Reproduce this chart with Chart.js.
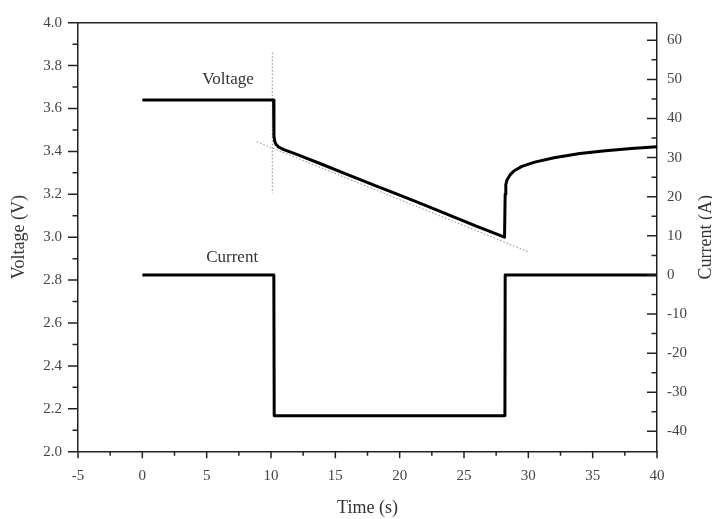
<!DOCTYPE html>
<html>
<head>
<meta charset="utf-8">
<script src="https://cdn.jsdelivr.net/npm/chart.js@4/dist/chart.umd.min.js"></script>
<style>
  html, body { margin: 0; padding: 0; background: #fff; }
  #wrap { width: 712px; height: 519px; }
</style>
</head>
<body>
<div id="wrap"><canvas id="c" width="712" height="519"></canvas></div>
<script>
// Cell voltage during a current pulse
const timeV = [0, 10.2, 10.23, 10.3, 10.4, 10.6, 11, 12, 14, 16, 18, 20, 22, 24, 26, 28.15, 28.2, 28.25, 28.35, 28.6, 28.9, 29.5, 30.5, 32, 34, 36, 38, 40];
const voltage = [3.64, 3.64, 3.47, 3.445, 3.432, 3.42, 3.408, 3.386, 3.339, 3.291, 3.243, 3.196, 3.148, 3.099, 3.05, 3.00, 3.20, 3.245, 3.268, 3.292, 3.31, 3.33, 3.35, 3.37, 3.39, 3.403, 3.413, 3.422];

// Applied current
const timeI = [0, 10.22, 10.25, 28.18, 28.2, 40];
const current = [0, 0, -36, -36, 0, 0];

// Guide lines: vertical marker at the step and the linear trend of the discharge
const guideVT = [10.1, 10.1];
const guideVV = [3.86, 3.205];
const trendT = [8.9, 30.0];
const trendV = [3.445, 2.932];

// Curve labels (time, value on own axis)
const voltageLabel = { text: 'Voltage', t: 6.66, v: 3.733 };
const currentLabel = { text: 'Current', t: 6.98, v: 4.35 };

const FONT = '"Liberation Serif", "Times New Roman", serif';
const TEXT = '#444';
const AXIS = '#222';

const pts = (xs, ys) => xs.map((x, i) => ({ x: x, y: ys[i] }));

const framePlugin = {
  id: 'frame',
  afterDraw(chart) {
    const ctx = chart.ctx;
    const a = chart.chartArea;
    const sx = chart.scales.x, sv = chart.scales.yV, si = chart.scales.yI;
    ctx.save();
    ctx.strokeStyle = AXIS;
    ctx.lineWidth = 1.5;
    // top edge of the frame
    ctx.beginPath();
    ctx.moveTo(a.left, a.top);
    ctx.lineTo(a.right, a.top);
    ctx.stroke();

    const mids = (vals) => { const m = []; for (let i = 0; i + 1 < vals.length; i++) m.push((vals[i] + vals[i + 1]) / 2); return m; };
    const tickVals = (s) => s.ticks.map(t => t.value);

    // x axis: outward ticks
    const xv = tickVals(sx);
    ctx.beginPath();
    xv.forEach(v => { const p = sx.getPixelForValue(v); ctx.moveTo(p, a.bottom); ctx.lineTo(p, a.bottom + 6.5); });
    mids(xv).forEach(v => { const p = sx.getPixelForValue(v); ctx.moveTo(p, a.bottom); ctx.lineTo(p, a.bottom + 4); });
    // left axis: outward ticks
    const vv = tickVals(sv);
    vv.forEach(v => { const p = sv.getPixelForValue(v); ctx.moveTo(a.left, p); ctx.lineTo(a.left - 10, p); });
    mids(vv).forEach(v => { const p = sv.getPixelForValue(v); ctx.moveTo(a.left, p); ctx.lineTo(a.left - 5.5, p); });
    // right axis: inward ticks
    const iv = tickVals(si);
    iv.forEach(v => { const p = si.getPixelForValue(v); ctx.moveTo(a.right, p); ctx.lineTo(a.right - 10, p); });
    mids(iv).forEach(v => { const p = si.getPixelForValue(v); ctx.moveTo(a.right, p); ctx.lineTo(a.right - 5.5, p); });
    ctx.stroke();

    // curve labels
    ctx.fillStyle = '#333';
    ctx.font = '17px ' + FONT;
    ctx.textAlign = 'center';
    ctx.textBaseline = 'middle';
    ctx.fillText(voltageLabel.text, sx.getPixelForValue(voltageLabel.t), sv.getPixelForValue(voltageLabel.v));
    ctx.fillText(currentLabel.text, sx.getPixelForValue(currentLabel.t), si.getPixelForValue(currentLabel.v));

    // axis titles
    ctx.font = '18px ' + FONT;
    ctx.fillText('Time (s)', (a.left + a.right) / 2, 508);
    ctx.save();
    ctx.translate(19, (a.top + a.bottom) / 2);
    ctx.rotate(-Math.PI / 2);
    ctx.fillText('Voltage (V)', 0, 0);
    ctx.restore();
    ctx.save();
    ctx.translate(706, (a.top + a.bottom) / 2);
    ctx.rotate(-Math.PI / 2);
    ctx.fillText('Current (A)', 0, 0);
    ctx.restore();
    ctx.restore();
  }
};

const lineDs = (data, axis) => ({
  data: data, yAxisID: axis, borderColor: '#000', borderWidth: 3,
  pointRadius: 0, tension: 0, fill: false, borderCapStyle: 'butt', borderJoinStyle: 'round'
});
const dotDs = (data) => ({
  data: data, yAxisID: 'yV', borderColor: '#8a8a8a', borderWidth: 1,
  borderDash: [1.5, 2], pointRadius: 0, tension: 0, fill: false
});

new Chart(document.getElementById('c'), {
  type: 'line',
  data: {
    datasets: [
      lineDs(pts(timeV, voltage), 'yV'),
      lineDs(pts(timeI, current), 'yI'),
      dotDs(pts(guideVT, guideVV)),
      dotDs(pts(trendT, trendV))
    ]
  },
  options: {
    responsive: false,
    animation: false,
    events: [],
    layout: { padding: { top: 22.7, left: 0, right: 0, bottom: 0 } },
    plugins: { legend: { display: false }, tooltip: { enabled: false } },
    scales: {
      x: {
        type: 'linear', position: 'bottom', min: -5, max: 40,
        grid: { display: false },
        border: { display: true, color: AXIS, width: 1.5 },
        ticks: { stepSize: 5, includeBounds: false, padding: 7, color: TEXT, font: { family: FONT, size: 15 }, maxRotation: 0 },
        afterFit(s) { s.height = 67.3; }
      },
      yV: {
        type: 'linear', position: 'left', min: 2.0, max: 4.0,
        grid: { display: false },
        border: { display: true, color: AXIS, width: 1.5 },
        ticks: { stepSize: 0.2, includeBounds: false, padding: 8, color: TEXT, font: { family: FONT, size: 15 },
          callback: v => v.toFixed(1) },
        afterFit(s) { s.width = 78; }
      },
      yI: {
        type: 'linear', position: 'right', min: -45.2, max: 64.5,
        grid: { display: false },
        border: { display: true, color: AXIS, width: 1.5 },
        ticks: { stepSize: 10, includeBounds: false, padding: 2, color: TEXT, font: { family: FONT, size: 15 },
          callback: v => String(Math.round(v)) },
        afterFit(s) { s.width = 55; }
      }
    }
  },
  plugins: [framePlugin]
});
</script>
</body>
</html>
